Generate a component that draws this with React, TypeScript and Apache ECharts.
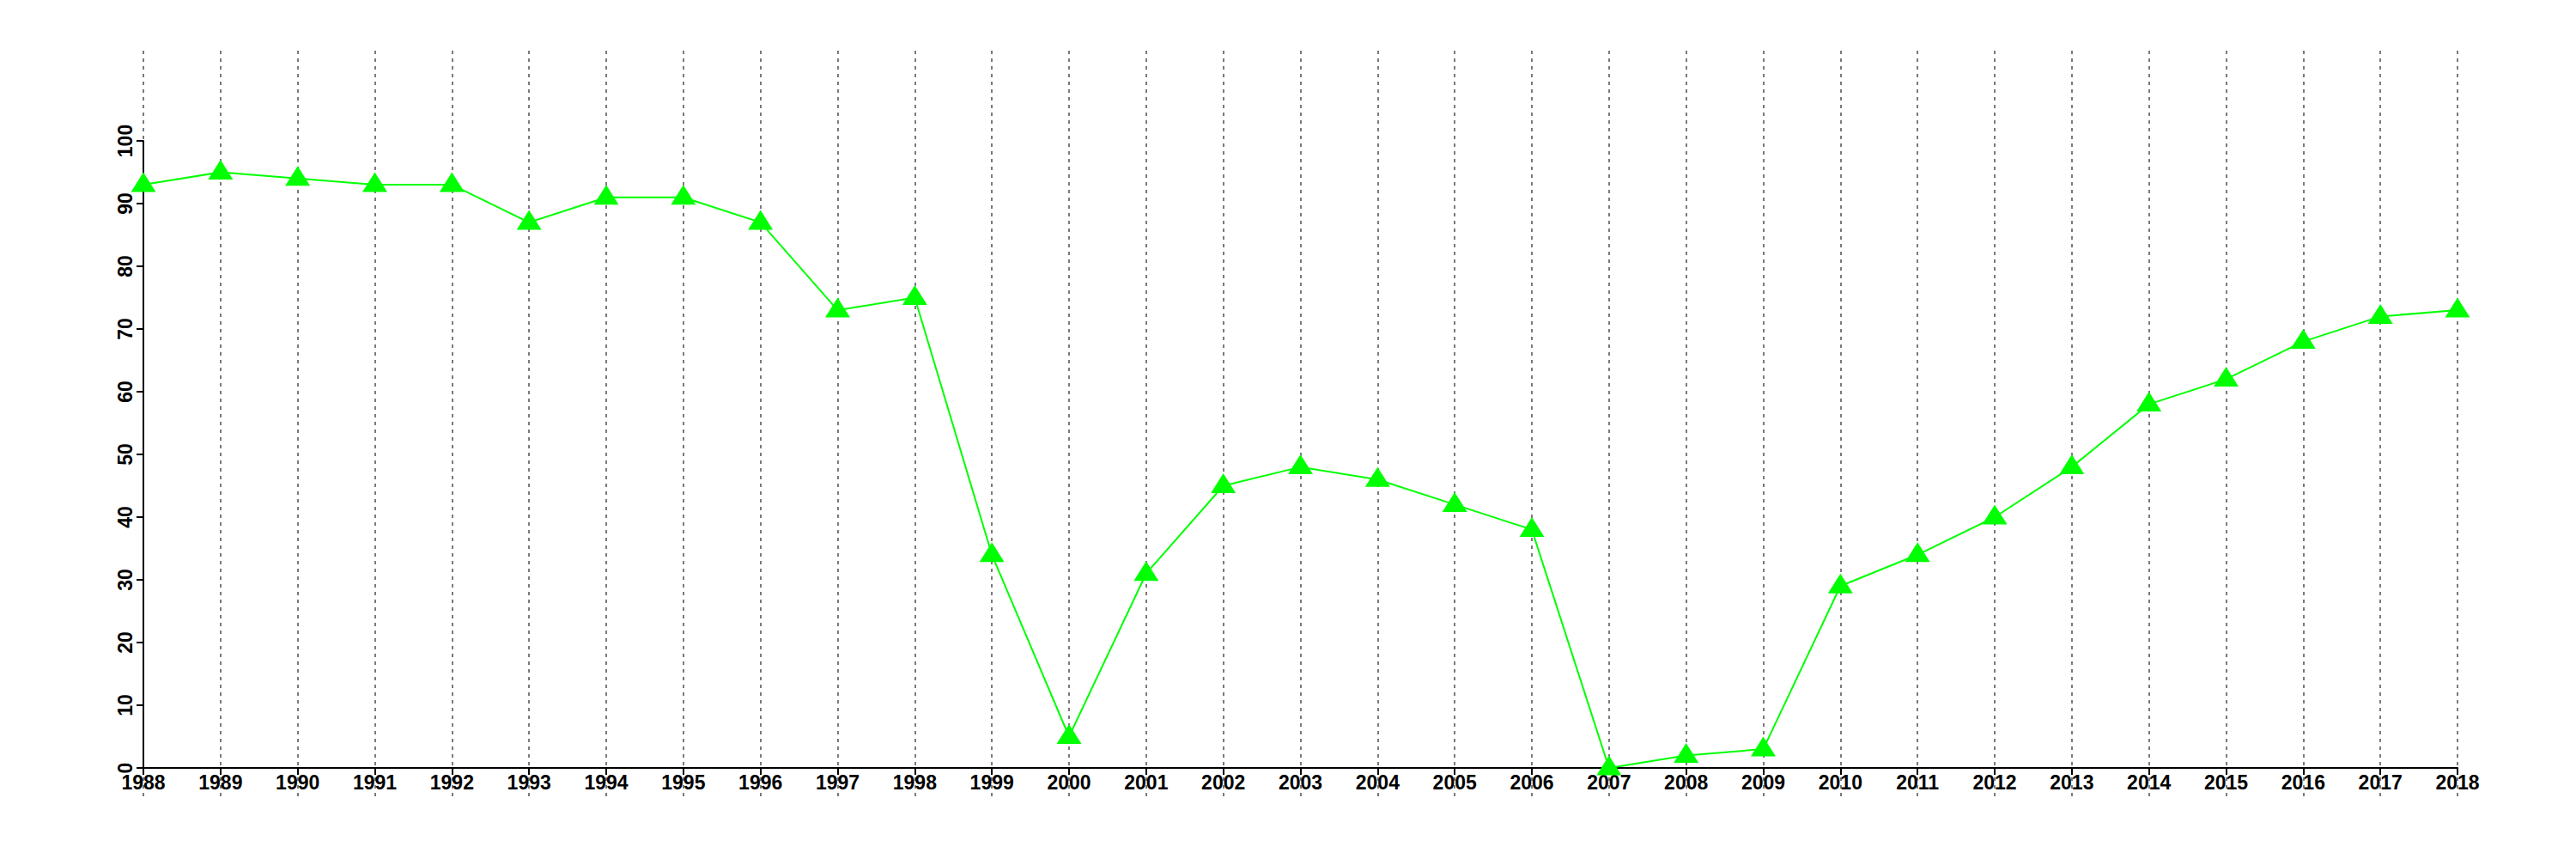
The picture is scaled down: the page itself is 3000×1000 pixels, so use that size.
import React, { useEffect, useRef } from "react";
import * as echarts from "echarts";

const years: string[] = [
  "1988", "1989", "1990", "1991", "1992", "1993", "1994", "1995", "1996", "1997",
  "1998", "1999", "2000", "2001", "2002", "2003", "2004", "2005", "2006", "2007",
  "2008", "2009", "2010", "2011", "2012", "2013", "2014", "2015", "2016", "2017", "2018",
];
const values: number[] = [
  93, 95, 94, 93, 93, 87, 91, 91, 87, 73,
  75, 34, 5, 31, 45, 48, 46, 42, 38, 0,
  2, 3, 29, 34, 40, 48, 58, 62, 68, 72, 73,
];
const yMin = 0;
const yMax = 100;
const yStep = 10;

const FONT = "'Liberation Sans', Arial, Helvetica, sans-serif";

export default function App() {
  const ref = useRef<HTMLDivElement>(null);
  useEffect(() => {
    if (!ref.current) return;
    const chart = echarts.init(ref.current, null, { renderer: "svg" });
    chart.setOption({
      animation: false,
      backgroundColor: "#ffffff",
      grid: [
        { left: 167, right: 138, top: 59, bottom: 73, containLabel: false },
        { left: 167, right: 138, top: 164, bottom: 106, containLabel: false },
      ],
      xAxis: [
        {
          gridIndex: 0,
          type: "category",
          data: years,
          boundaryGap: false,
          axisLine: { show: false },
          axisTick: { show: false },
          axisLabel: { show: false },
          splitLine: {
            show: true,
            interval: 0,
            lineStyle: { color: "#7a7a7a", width: 2, type: [4, 5] },
          },
        },
        {
          gridIndex: 1,
          type: "category",
          data: years,
          boundaryGap: false,
          axisLine: { show: true, onZero: false, lineStyle: { color: "#000", width: 2 } },
          axisTick: { show: true, interval: 0, length: 8, lineStyle: { color: "#000", width: 2 } },
          axisLabel: {
            show: true,
            interval: 0,
            margin: 5,
            color: "#000",
            fontSize: 23,
            fontWeight: "bold",
            fontFamily: FONT,
          },
          splitLine: { show: false },
        },
      ],
      yAxis: [
        {
          gridIndex: 0,
          type: "value",
          min: 0,
          max: 1,
          show: false,
          splitLine: { show: false },
        },
        {
          gridIndex: 1,
          type: "value",
          min: yMin,
          max: yMax,
          interval: yStep,
          axisLine: { show: true, lineStyle: { color: "#000", width: 2 } },
          axisTick: { show: true, length: 8, lineStyle: { color: "#000", width: 2 } },
          axisLabel: {
            show: true,
            rotate: 90,
            margin: 10,
            color: "#000",
            fontSize: 23,
            fontWeight: "bold",
            fontFamily: FONT,
          },
          splitLine: { show: false },
        },
      ],
      series: [
        {
          type: "line",
          xAxisIndex: 1,
          yAxisIndex: 1,
          data: values,
          clip: false,
          symbol: "triangle",
          symbolSize: [29, 23],
          symbolOffset: [0, -3],
          showAllSymbol: true,
          lineStyle: { color: "#00ff00", width: 2 },
          itemStyle: { color: "#00ff00" },
          z: 3,
        },
      ],
    });
    return () => chart.dispose();
  }, []);
  return (
    <div
      ref={ref}
      style={{ position: "fixed", left: 0, top: 0, width: 3000, height: 1000 }}
    />
  );
}
